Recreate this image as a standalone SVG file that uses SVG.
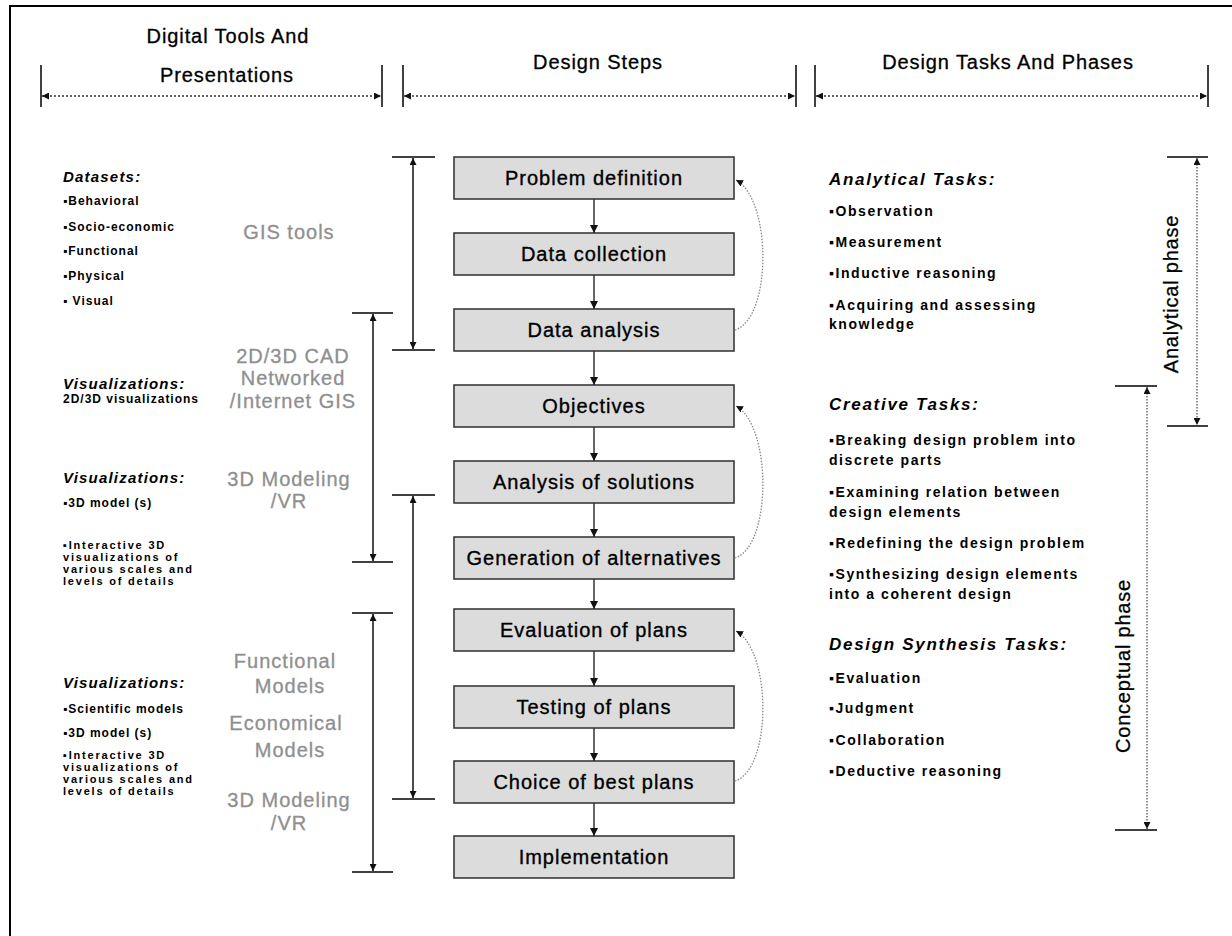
<svg xmlns="http://www.w3.org/2000/svg" width="1232" height="936" viewBox="0 0 1232 936">
  <defs>
    <style>
      text { font-family: "Liberation Sans", Arial, sans-serif; }
      .hdr { font-size: 20px; letter-spacing: 0.9px; fill: #000; stroke: #000; stroke-width: 0.3px; text-anchor: middle; }
      .box { fill: #dcdcdc; stroke: #3a3a3a; stroke-width: 1.6; }
      .step { font-size: 20px; letter-spacing: 1px; fill: #000; stroke: #000; stroke-width: 0.35px; text-anchor: middle; }
      .tool { font-size: 20px; letter-spacing: 1px; fill: #8f8f8f; stroke: #8f8f8f; stroke-width: 0.3px; text-anchor: middle; }
      .lh { font-size: 15px; font-weight: bold; font-style: italic; letter-spacing: 1.2px; fill: #000; }
      .li { font-size: 12px; font-weight: bold; letter-spacing: 1px; fill: #000; }
      .li2 { font-size: 11px; font-weight: bold; letter-spacing: 1.8px; fill: #000; }
      .rh { font-size: 17px; font-weight: bold; font-style: italic; letter-spacing: 1.7px; fill: #000; }
      .ri { font-size: 14px; font-weight: bold; letter-spacing: 1.55px; fill: #000; }
      .phase { font-size: 20px; letter-spacing: 0.8px; fill: #000; stroke: #000; stroke-width: 0.3px; text-anchor: middle; }
      .tick { stroke: #000; stroke-width: 1.5; fill: none; }
      .dimdot { stroke: #333; stroke-width: 1.5; stroke-dasharray: 2 2; fill: none; }
      .flow { stroke: #333; stroke-width: 1.5; fill: none; }
      .span { stroke: #111; stroke-width: 1.5; fill: none; }
      .phdot { stroke: #555; stroke-width: 1.3; stroke-dasharray: 1.5 1.5; fill: none; }
      .loop { stroke: #888; stroke-width: 1.3; stroke-dasharray: 1.5 1.5; fill: none; }
    </style>
    <marker id="ah" viewBox="0 0 10 10" refX="10" refY="5" markerUnits="userSpaceOnUse" markerWidth="8" markerHeight="8" orient="auto-start-reverse">
      <path d="M0,0 L10,5 L0,10 z" fill="#111"/>
    </marker>
    <marker id="ahs" viewBox="0 0 10 10" refX="10" refY="5" markerUnits="userSpaceOnUse" markerWidth="7" markerHeight="7" orient="auto-start-reverse">
      <path d="M0,0 L10,5 L0,10 z" fill="#111"/>
    </marker>
  </defs>

  <rect x="0" y="0" width="1232" height="936" fill="#fff"/>

  <!-- frame -->
  <path d="M10,936 V6 H1232" stroke="#000" stroke-width="2" fill="none"/>

  <!-- column headings -->
  <g id="header-tools">
    <text class="hdr" x="228" y="43">Digital Tools And</text>
    <text class="hdr" x="227" y="82">Presentations</text>
    <line class="tick" x1="41" y1="65" x2="41" y2="107"/>
    <line class="tick" x1="382" y1="65" x2="382" y2="107"/>
    <line class="dimdot" x1="42" y1="96" x2="381" y2="96" marker-start="url(#ahs)" marker-end="url(#ahs)"/>
  </g>
  <g id="header-steps">
    <text class="hdr" x="598" y="69">Design Steps</text>
    <line class="tick" x1="403" y1="65" x2="403" y2="107"/>
    <line class="tick" x1="796" y1="65" x2="796" y2="107"/>
    <line class="dimdot" x1="404" y1="96" x2="795" y2="96" marker-start="url(#ahs)" marker-end="url(#ahs)"/>
  </g>
  <g id="header-tasks">
    <text class="hdr" x="1008" y="69">Design Tasks And Phases</text>
    <line class="tick" x1="815" y1="65" x2="815" y2="107"/>
    <line class="tick" x1="1208" y1="65" x2="1208" y2="107"/>
    <line class="dimdot" x1="816" y1="96" x2="1207" y2="96" marker-start="url(#ahs)" marker-end="url(#ahs)"/>
  </g>

  <!-- left column: datasets and visualizations -->
  <g id="datasets">
    <text class="lh" x="63" y="182">Datasets:</text>
    <text class="li" x="63" y="205">▪Behavioral</text>
    <text class="li" x="63" y="231">▪Socio-economic</text>
    <text class="li" x="63" y="255">▪Functional</text>
    <text class="li" x="63" y="280">▪Physical</text>
    <text class="li" x="63" y="305">▪ Visual</text>
  </g>
  <g id="vis-2d3d">
    <text class="lh" x="63" y="389">Visualizations:</text>
    <text class="li" x="63" y="403">2D/3D visualizations</text>
  </g>
  <g id="vis-3d">
    <text class="lh" x="63" y="483">Visualizations:</text>
    <text class="li" x="63" y="507">▪3D model (s)</text>
    <text class="li2" x="63" y="549">▪Interactive 3D</text>
    <text class="li2" x="63" y="561">visualizations of</text>
    <text class="li2" x="63" y="573">various scales and</text>
    <text class="li2" x="63" y="585">levels of details</text>
  </g>
  <g id="vis-models">
    <text class="lh" x="63" y="688">Visualizations:</text>
    <text class="li" x="63" y="713">▪Scientific models</text>
    <text class="li" x="63" y="737">▪3D model (s)</text>
    <text class="li2" x="63" y="759">▪Interactive 3D</text>
    <text class="li2" x="63" y="771">visualizations of</text>
    <text class="li2" x="63" y="783">various scales and</text>
    <text class="li2" x="63" y="795">levels of details</text>
  </g>

  <!-- tool labels -->
  <g id="tool-gis"><text class="tool" x="289" y="239">GIS tools</text></g>
  <g id="tool-cad">
    <text class="tool" x="293" y="363">2D/3D CAD</text>
    <text class="tool" x="293" y="385">Networked</text>
    <text class="tool" x="293" y="408">/Internet GIS</text>
  </g>
  <g id="tool-vr1">
    <text class="tool" x="289" y="486">3D Modeling</text>
    <text class="tool" x="289" y="508">/VR</text>
  </g>
  <g id="tool-models">
    <text class="tool" x="285" y="668">Functional</text>
    <text class="tool" x="290" y="693">Models</text>
    <text class="tool" x="286" y="730">Economical</text>
    <text class="tool" x="290" y="757">Models</text>
    <text class="tool" x="289" y="807">3D Modeling</text>
    <text class="tool" x="289" y="830">/VR</text>
  </g>

  <!-- design steps -->
  <g id="step-problem"><rect class="box" x="454" y="157" width="280" height="42"/><text class="step" x="594" y="185">Problem definition</text></g>
  <g id="step-collection"><rect class="box" x="454" y="233" width="280" height="42"/><text class="step" x="594" y="261">Data collection</text></g>
  <g id="step-analysis"><rect class="box" x="454" y="309" width="280" height="42"/><text class="step" x="594" y="337">Data analysis</text></g>
  <g id="step-objectives"><rect class="box" x="454" y="385" width="280" height="42"/><text class="step" x="594" y="413">Objectives</text></g>
  <g id="step-solutions"><rect class="box" x="454" y="461" width="280" height="42"/><text class="step" x="594" y="489">Analysis of solutions</text></g>
  <g id="step-alternatives"><rect class="box" x="454" y="537" width="280" height="42"/><text class="step" x="594" y="565">Generation of alternatives</text></g>
  <g id="step-evaluation"><rect class="box" x="454" y="609" width="280" height="42"/><text class="step" x="594" y="637">Evaluation of plans</text></g>
  <g id="step-testing"><rect class="box" x="454" y="686" width="280" height="42"/><text class="step" x="594" y="714">Testing of plans</text></g>
  <g id="step-choice"><rect class="box" x="454" y="761" width="280" height="42"/><text class="step" x="594" y="789">Choice of best plans</text></g>
  <g id="step-implementation"><rect class="box" x="454" y="836" width="280" height="42"/><text class="step" x="594" y="864">Implementation</text></g>

  <!-- right column: tasks -->
  <g id="tasks-analytical">
    <text class="rh" x="829" y="185">Analytical Tasks:</text>
    <text class="ri" x="829" y="216">▪Observation</text>
    <text class="ri" x="829" y="247">▪Measurement</text>
    <text class="ri" x="829" y="278">▪Inductive reasoning</text>
    <text class="ri" x="829" y="310">▪Acquiring and assessing</text>
    <text class="ri" x="829" y="329">knowledge</text>
  </g>
  <g id="tasks-creative">
    <text class="rh" x="829" y="410">Creative Tasks:</text>
    <text class="ri" x="829" y="445">▪Breaking design problem into</text>
    <text class="ri" x="829" y="465">discrete parts</text>
    <text class="ri" x="829" y="497">▪Examining relation between</text>
    <text class="ri" x="829" y="517">design elements</text>
    <text class="ri" x="829" y="548">▪Redefining the design problem</text>
    <text class="ri" x="829" y="579">▪Synthesizing design elements</text>
    <text class="ri" x="829" y="599">into a coherent design</text>
  </g>
  <g id="tasks-synthesis">
    <text class="rh" x="829" y="650">Design Synthesis Tasks:</text>
    <text class="ri" x="829" y="683">▪Evaluation</text>
    <text class="ri" x="829" y="713">▪Judgment</text>
    <text class="ri" x="829" y="745">▪Collaboration</text>
    <text class="ri" x="829" y="776">▪Deductive reasoning</text>
  </g>

  <!-- phases -->
  <g id="phase-analytical">
    <line class="tick" x1="1167" y1="157" x2="1208" y2="157"/>
    <line class="tick" x1="1167" y1="426" x2="1208" y2="426"/>
    <line class="phdot" x1="1197" y1="158" x2="1197" y2="425" marker-start="url(#ahs)" marker-end="url(#ahs)"/>
    <text class="phase" transform="translate(1178,294) rotate(-90)">Analytical phase</text>
  </g>
  <g id="phase-conceptual">
    <line class="tick" x1="1115" y1="386" x2="1157" y2="386"/>
    <line class="tick" x1="1115" y1="830" x2="1157" y2="830"/>
    <line class="phdot" x1="1147" y1="387" x2="1147" y2="829" marker-start="url(#ahs)" marker-end="url(#ahs)"/>
    <text class="phase" transform="translate(1130,666) rotate(-90)">Conceptual phase</text>
  </g>

  <!-- connectors -->
  <g id="connectors">
    <!-- step sequence -->
    <line class="flow" x1="594" y1="199" x2="594" y2="233" marker-end="url(#ah)"/>
    <line class="flow" x1="594" y1="275" x2="594" y2="309" marker-end="url(#ah)"/>
    <line class="flow" x1="594" y1="351" x2="594" y2="385" marker-end="url(#ah)"/>
    <line class="flow" x1="594" y1="427" x2="594" y2="461" marker-end="url(#ah)"/>
    <line class="flow" x1="594" y1="503" x2="594" y2="537" marker-end="url(#ah)"/>
    <line class="flow" x1="594" y1="579" x2="594" y2="609" marker-end="url(#ah)"/>
    <line class="flow" x1="594" y1="651" x2="594" y2="686" marker-end="url(#ah)"/>
    <line class="flow" x1="594" y1="728" x2="594" y2="761" marker-end="url(#ah)"/>
    <line class="flow" x1="594" y1="803" x2="594" y2="836" marker-end="url(#ah)"/>

    <!-- feedback loops -->
    <path class="loop" d="M735,330 C772,318 772,200 736,180" marker-end="url(#ahs)"/>
    <path class="loop" d="M735,558 C772,546 772,426 736,406" marker-end="url(#ahs)"/>
    <path class="loop" d="M735,781 C772,769 772,651 736,631" marker-end="url(#ahs)"/>

    <!-- tool spans -->
    <line class="tick" x1="392" y1="157" x2="435" y2="157"/>
    <line class="tick" x1="392" y1="350" x2="435" y2="350"/>
    <line class="span" x1="413" y1="158" x2="413" y2="349" marker-start="url(#ahs)" marker-end="url(#ahs)"/>

    <line class="tick" x1="352" y1="313" x2="393" y2="313"/>
    <line class="tick" x1="352" y1="562" x2="393" y2="562"/>
    <line class="span" x1="373" y1="314" x2="373" y2="561" stroke="#555" marker-start="url(#ahs)" marker-end="url(#ahs)"/>

    <line class="tick" x1="392" y1="495" x2="435" y2="495"/>
    <line class="tick" x1="392" y1="799" x2="435" y2="799"/>
    <line class="span" x1="413" y1="496" x2="413" y2="798" marker-start="url(#ahs)" marker-end="url(#ahs)"/>

    <line class="tick" x1="352" y1="613" x2="393" y2="613"/>
    <line class="tick" x1="352" y1="872" x2="393" y2="872"/>
    <line class="span" x1="373" y1="614" x2="373" y2="871" marker-start="url(#ahs)" marker-end="url(#ahs)"/>
  </g>
</svg>
